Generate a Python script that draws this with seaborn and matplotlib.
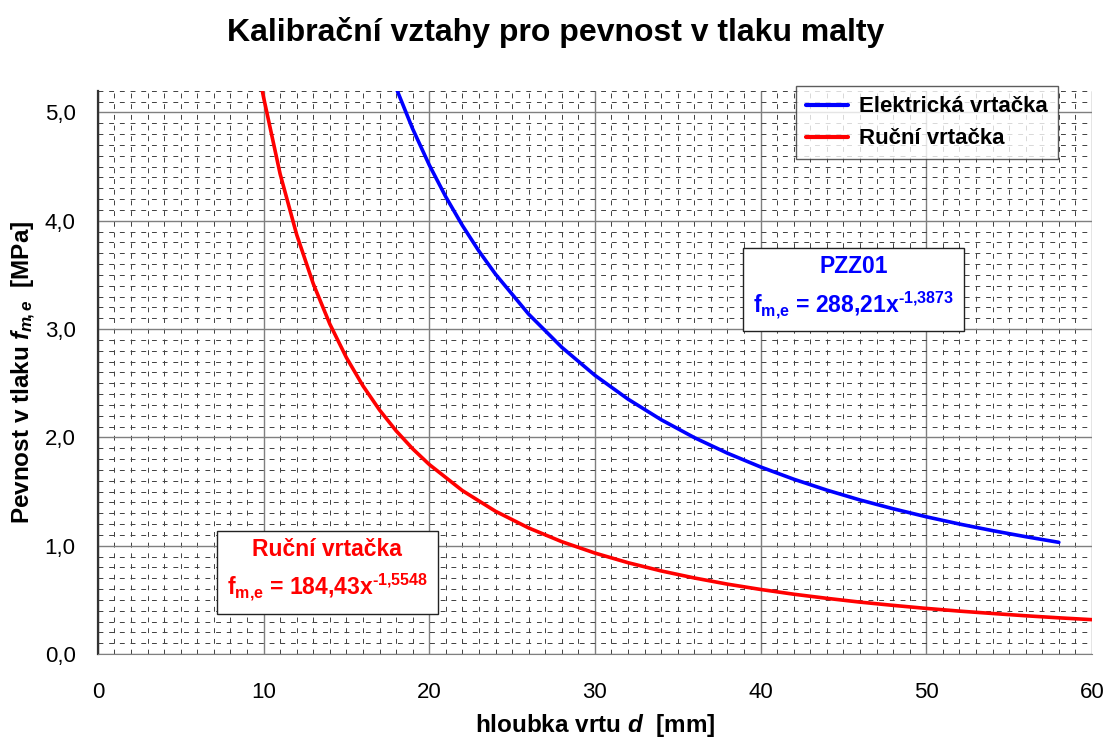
import seaborn as sns
import matplotlib.pyplot as plt
import pandas as pd
from matplotlib.ticker import MultipleLocator, FuncFormatter

# values
depth_manual = [9.9, 10, 11, 12, 13, 14, 15, 16, 17, 18, 19, 20, 22, 24, 26, 28, 30,
                32, 34, 36, 38, 40, 42, 44, 46, 48, 50, 52, 54, 56, 58, 60]
strength_manual = [5.22, 5.141, 4.433, 3.872, 3.419, 3.047, 2.737, 2.476, 2.253, 2.061,
                   1.895, 1.750, 1.509, 1.318, 1.164, 1.037, 0.932, 0.843, 0.767, 0.702,
                   0.645, 0.596, 0.552, 0.514, 0.479, 0.449, 0.421, 0.396, 0.374, 0.353,
                   0.334, 0.317]
depth_electric = [18, 19, 20, 21, 22, 23, 24, 26, 28, 30, 32, 34, 36, 38, 40, 42, 44,
                  46, 48, 50, 52, 54, 56, 58]
strength_electric = [5.227, 4.849, 4.516, 4.221, 3.957, 3.720, 3.507, 3.138, 2.832,
                     2.573, 2.353, 2.163, 1.998, 1.854, 1.727, 1.614, 1.513, 1.422,
                     1.341, 1.267, 1.200, 1.139, 1.083, 1.031]

series_names = ["Elektrická vrtačka", "Ruční vrtačka"]
series_colors = ["#0000ff", "#ff0000"]

df = pd.concat([
    pd.DataFrame({"d": depth_electric, "f": strength_electric, "serie": series_names[0]}),
    pd.DataFrame({"d": depth_manual, "f": strength_manual, "serie": series_names[1]}),
])

sns.set_style("white")
plt.rcParams["font.family"] = ["Liberation Sans", "DejaVu Sans"]
plt.rcParams["text.color"] = "black"
plt.rcParams["axes.labelcolor"] = "black"
plt.rcParams["xtick.color"] = "black"
plt.rcParams["ytick.color"] = "black"
plt.rcParams["mathtext.fontset"] = "custom"
plt.rcParams["mathtext.rm"] = "Liberation Sans:bold"
plt.rcParams["mathtext.bf"] = "Liberation Sans:bold"
plt.rcParams["mathtext.it"] = "Liberation Sans:italic:bold"

fig = plt.figure(figsize=(11.12, 7.42), dpi=100)
ax = fig.add_axes([0.088, 0.1186, 0.894, 0.759])

sns.lineplot(data=df, x="d", y="f", hue="serie", palette=series_colors,
             hue_order=series_names, sort=False, estimator=None, linewidth=2.6, ax=ax,
             zorder=5)

ax.set_xlim(0, 60)
ax.set_ylim(0, 5.2)
ax.xaxis.set_major_locator(MultipleLocator(10))
ax.xaxis.set_minor_locator(MultipleLocator(1))
ax.yaxis.set_major_locator(MultipleLocator(1))
ax.yaxis.set_minor_locator(MultipleLocator(0.1))
ax.yaxis.set_major_formatter(FuncFormatter(lambda v, p: f"{v:.1f}".replace(".", ",")))

ax.grid(which="major", color="#7f7f7f", linewidth=1.0, linestyle="-")
ax.grid(which="minor", color="#404040", linewidth=0.7, linestyle=(0, (5, 6)))
ax.set_axisbelow(True)

for side in ["top", "right"]:
    ax.spines[side].set_visible(False)
ax.spines["left"].set_color("#333333")
ax.spines["left"].set_linewidth(1.6)
ax.spines["bottom"].set_color("#7f7f7f")
ax.tick_params(axis="both", which="major", labelsize=16, length=6, direction="out",
               color="#555555")
ax.tick_params(axis="x", which="major", pad=15, length=5)
ax.tick_params(axis="y", which="major", pad=10)
ax.tick_params(axis="both", which="minor", length=0)

ax.set_xlabel("hloubka vrtu $d$  [mm]", fontsize=17.5, fontweight="bold", labelpad=7)
ax.set_ylabel("Pevnost v tlaku $f_{m\\!,e}$  [MPa]", fontsize=17.5,
              fontweight="bold", labelpad=5)
fig.suptitle("Kalibrační vztahy pro pevnost v tlaku malty", fontsize=23,
             fontweight="bold", y=0.956, va="center")

leg = ax.legend(loc="upper right", fontsize=16, frameon=True, fancybox=False,
                bbox_to_anchor=(0.966, 1.008), borderaxespad=0, handlelength=1.9,
                handletextpad=0.5, borderpad=0.45, labelspacing=0.5, title=None)
leg.get_frame().set_edgecolor("#333333")
leg.get_frame().set_linewidth(1.0)
for t in leg.get_texts():
    t.set_fontweight("bold")
for line in leg.get_lines():
    line.set_linewidth(3)

box = dict(boxstyle="square,pad=0.45", facecolor="white", edgecolor="#222222",
           linewidth=1.0)
ax.text(45.6, 3.38, "PZZ01\n$\\mathrm{f}_{\\text{m,e}}$ = 288,21x$^{\\text{-1,3873}}$",
        color=series_colors[0], fontsize=16.5, fontweight="bold", ha="center",
        va="center", linespacing=1.5, bbox=box, zorder=6)
ax.text(13.85, 0.77, "Ruční vrtačka\n$\\mathrm{f}_{\\text{m,e}}$ = 184,43x$^{\\text{-1,5548}}$",
        color=series_colors[1], fontsize=16.5, fontweight="bold", ha="center",
        va="center", linespacing=1.5, bbox=box, zorder=6)

fig.savefig("out.png", dpi=100)
